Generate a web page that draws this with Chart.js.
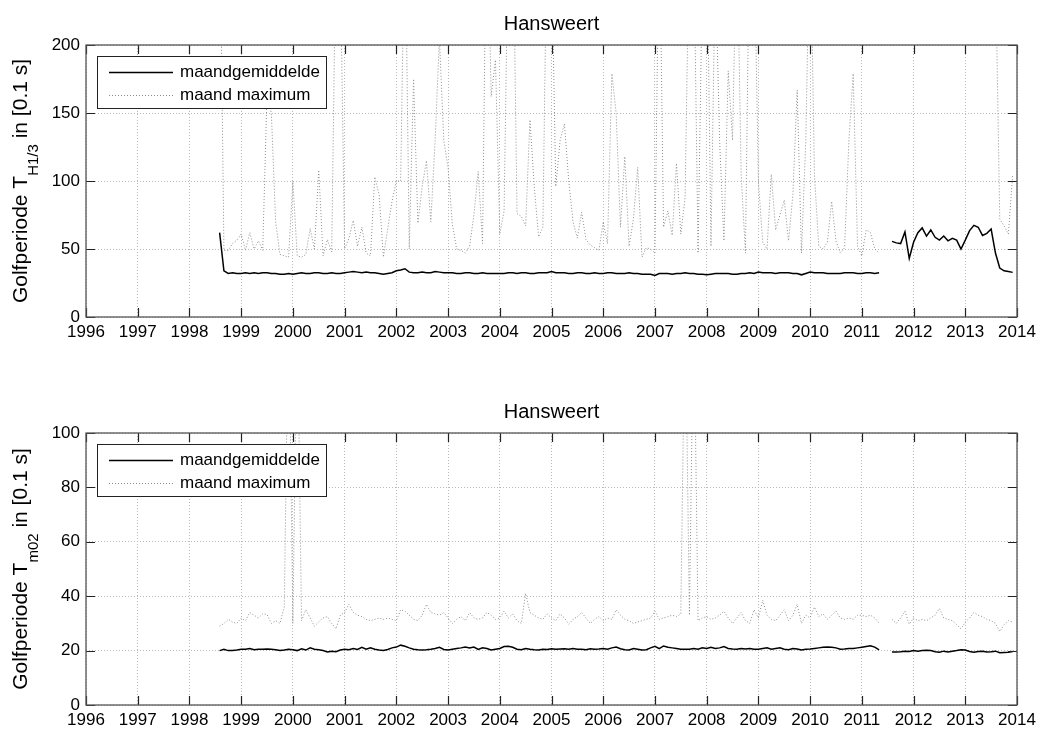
<!DOCTYPE html>
<html>
<head>
<meta charset="utf-8">
<title>Hansweert</title>
<script src="https://cdn.jsdelivr.net/npm/chart.js@4.4.1/dist/chart.umd.min.js"></script>
<style>
  html, body { margin: 0; padding: 0; background: #fff; }
  #wrap { position: relative; width: 1040px; height: 731px; }
  canvas { position: absolute; left: 0; }
</style>
</head>
<body>
<div id="wrap">
  <canvas id="hs" width="1040" height="343" style="top:0"></canvas>
  <canvas id="tm" width="1040" height="343" style="top:388px"></canvas>
</div>
<script>
// monthly series start in Aug 1998; gap Jun-Jul 2011; second block Aug 2011 - Dec 2013
const START_YEAR = 1998;
const START_MONTH = 8;
const GAP_MONTHS = 2;

const yearTicks = [1996, 1997, 1998, 1999, 2000, 2001, 2002, 2003, 2004, 2005,
                   2006, 2007, 2008, 2009, 2010, 2011, 2012, 2013, 2014];

// TH1/3, monthly mean, Aug 1998 - May 2011
const hsMean9811 = [
  62, 34, 32, 32.5, 32,
  32, 32.5, 32, 32.5, 32, 32.5, 32.5, 32, 32, 31.5, 31.5, 32,
  31.5, 32, 32.5, 32, 32, 32.5, 32.5, 32, 32, 32.5, 32, 32,
  32.5, 33, 33.5, 33, 32.5, 33, 32.5, 32.5, 32, 31.5, 32, 32.5,
  34, 34.5, 35.5, 33, 32.5, 32.5, 33, 32.5, 32.5, 33.5, 33, 32.5,
  32.5, 32.5, 32, 32, 32.5, 32.5, 32, 32, 32.5, 32, 32, 32,
  32, 32, 32.5, 32.5, 32, 32.5, 32.5, 32, 32, 32.5, 32.5, 32.5,
  33.5, 32.5, 32.5, 32.5, 32, 32, 32.5, 32.5, 32, 32, 32.5, 32,
  32, 32.5, 32.5, 32, 32, 32, 32.5, 32, 32, 31.5, 31.5, 31.5,
  30.5, 32, 32, 32, 31.5, 32, 32, 32.5, 32, 32, 31.5, 31.5,
  31, 31.5, 32, 32, 32, 32, 31.5, 31.5, 32, 32, 32.5, 32,
  33, 32.5, 32.5, 32.5, 32, 32.5, 32.5, 32.5, 32, 32, 31, 32,
  33, 32.5, 32.5, 32.5, 32, 32, 32, 32, 32.5, 32.5, 32.5, 32,
  32, 32.5, 32.5, 32, 32.5
];
// TH1/3, monthly mean, Aug 2011 - Dec 2013
const hsMean1113 = [
  55.6, 54.5, 54, 62.5, 43, 55, 62, 65.5, 59.5, 64, 58.6, 56.5,
  59.5, 56, 57.8, 56.5, 50, 56.5, 63.5, 67.4, 66, 60, 61.5, 64.7,
  47, 36, 34, 33.5, 32.8
];
// TH1/3, monthly maximum, Aug 1998 - May 2011
const hsMax9811 = [
  320, 49, 49, 54, 56.5,
  61, 49, 62, 50, 56, 49, 165, 150, 70, 46, 45, 44,
  100, 45, 44, 46, 65, 50, 108, 45, 57, 48, 280, 260,
  50, 58, 71, 52, 66, 47, 45, 103, 90, 44, 65, 85,
  100, 100, 300, 50, 175, 69, 96, 115, 70, 130, 205, 130,
  110, 68, 50, 49, 47, 52, 75, 107, 54, 330, 162, 189,
  61, 78, 290, 310, 76, 74, 67, 145, 96, 59, 66, 300,
  270, 96, 130, 142, 100, 70, 58, 77, 57, 53, 51, 49,
  70, 54, 179, 150, 66, 118, 52, 72, 110, 44, 51, 50,
  47, 300, 66, 78, 60, 113, 61, 88, 290, 280, 47, 250,
  300, 52, 260, 130, 56, 181, 130, 290, 105, 47, 300, 280,
  100, 55, 50, 105, 64, 75, 86, 56, 90, 167, 47, 130,
  300, 105, 52, 50, 55, 85, 56, 47, 51, 130, 179, 52,
  45, 64, 62, 50, 47
];
// TH1/3, monthly maximum, Aug 2011 - Dec 2013
const hsMax1113 = [
  null, null, null, null, null, null, null, null, null, null, null, null,
  null, null, null, null, null, null, null, null, null, null, null, null,
  260, 72, 67, 61, 105
];

// Tm02, monthly mean, Aug 1998 - May 2011
const tmMean9811 = [
  20, 20.5, 20, 20, 20.2,
  20.5, 20.5, 20.8, 20.3, 20.5, 20.5, 20.6, 20.5, 20.3, 20, 20.2, 20.5,
  20.3, 20, 20.7, 20.2, 21, 20.5, 20.3, 20, 19.5, 19.8, 19.6, 20.2,
  20.5, 20.3, 20.8, 20.4, 21.2, 20.5, 21, 20.5, 20.2, 20, 20.4, 21,
  21.3, 22, 21.6, 21, 20.5, 20.3, 20.2, 20.3, 20.5, 20.8, 21.2, 20.4,
  20.2, 20.5, 20.8, 21, 21.3, 21, 21.3, 20.4, 21, 20.8, 20.2, 20.5,
  20.8, 21.5, 21.6, 21.2, 20.5, 20.3, 20.8, 20.5, 20.3, 20.2, 20.5, 20.4,
  20.7, 20.5, 20.6, 20.7, 20.5, 20.8, 20.5, 20.5, 20.3, 20.7, 20.5, 20.6,
  20.8, 20.5, 21, 21.3, 20.7, 20.3, 20.2, 20.8, 20.5, 20.2, 20.3, 21,
  21.6, 20.7, 21.7, 21.2, 21, 20.8, 20.5, 20.5, 20.5, 20.8, 20.5, 21,
  20.8, 21.2, 20.8, 21, 21.5, 20.8, 20.6, 20.5, 20.8, 20.6, 20.8, 20.5,
  20.5, 20.8, 21, 20.5, 20.8, 21, 20.5, 20.3, 20.8, 20.6, 20.2, 20.5,
  20.6, 20.8, 21, 21.2, 21.3, 21.2, 21, 20.5, 20.6, 20.8, 20.8, 21,
  21.2, 21.5, 21.8, 21.3, 20.3
];
// Tm02, monthly mean, Aug 2011 - Dec 2013
const tmMean1113 = [
  19.5, 19.5, 19.6, 19.8, 19.7, 20, 19.8, 20, 20.1, 20, 19.6, 19.4,
  19.8, 19.5, 19.8, 20, 20.3, 20.2, 19.7, 19.4, 19.7, 19.8, 19.5, 19.6,
  19.8, 19.2, 19.3, 19.4, 19.7
];
// Tm02, monthly maximum, Aug 1998 - May 2011
const tmMax9811 = [
  29, 30, 31.5, 30.5, 30,
  32, 31, 34, 33, 32, 33.5, 33.3, 30, 31, 30, 36, 150,
  30, 150, 31, 35, 32, 29, 30.5, 32, 32.5, 30, 28, 33,
  34, 37, 34, 33, 32.5, 31.5, 31, 31.5, 32, 31.5, 32, 31.5,
  31, 35, 34.5, 33, 31.5, 31, 33, 37, 34, 33.5, 33, 34,
  32, 30, 31.5, 32.5, 31, 34, 32, 31.5, 32, 34, 33, 31.5,
  32, 34.5, 32, 33.5, 31, 30, 41, 34, 33, 32, 31.5, 33.5,
  32, 31, 33.5, 32, 29.7, 31.5, 32.5, 34, 32, 30, 31.5, 32.5,
  31, 32, 31.5, 35, 33, 31.5, 31, 30, 30.5, 31, 31.5, 32,
  34.5, 31.5, 32, 32.5, 33, 32.5, 33.5, 150, 33, 150, 31, 32,
  32.5, 31.5, 32, 33, 34.5, 32, 30, 32, 34, 31, 30, 35,
  32, 38.5, 33, 31.5, 31, 33, 35, 31, 33, 37, 30, 33,
  32, 36, 32.5, 33.5, 31.5, 33, 34.5, 32, 31.5, 32, 31.5, 33,
  33, 32.5, 33, 32, 30
];
// Tm02, monthly maximum, Aug 2011 - Dec 2013
const tmMax1113 = [
  31.5, 30, 32, 34.5, 29.7, 32, 31, 31.5, 31, 32, 33, 35.5,
  32, 31.5, 31, 29.5, 28, 30.5, 32, 34, 33, 32.5, 31.5, 31,
  30, 27, 29.5, 31, 30.5
];

const FONT = '"Liberation Sans", Arial, Helvetica, sans-serif';

// join the two blocks into one monthly {x, y} list, with nulls for the gap
function monthly(first, second) {
  const values = first.concat(new Array(GAP_MONTHS).fill(null), second);
  return values.map((v, i) => ({ x: START_YEAR + (START_MONTH - 1 + i) / 12, y: v }));
}

// box, inward ticks, boxed legend and the y label with subscript
const matlabFrame = {
  id: 'matlabFrame',
  afterDraw(chart, args, opts) {
    const ctx = chart.ctx;
    const a = chart.chartArea;
    const xs = chart.scales.x, ys = chart.scales.y;
    ctx.save();

    // inward tick marks on all four sides
    ctx.strokeStyle = '#222';
    ctx.lineWidth = 1.2;
    ctx.beginPath();
    xs.ticks.forEach(t => {
      const px = Math.round(xs.getPixelForValue(t.value)) + 0.5;
      ctx.moveTo(px, a.bottom); ctx.lineTo(px, a.bottom - 9);
      ctx.moveTo(px, a.top); ctx.lineTo(px, a.top + 9);
    });
    ys.ticks.forEach(t => {
      const py = Math.round(ys.getPixelForValue(t.value)) + 0.5;
      ctx.moveTo(a.left, py); ctx.lineTo(a.left + 9, py);
      ctx.moveTo(a.right, py); ctx.lineTo(a.right - 9, py);
    });
    ctx.stroke();

    // axes box
    ctx.strokeStyle = '#555';
    ctx.lineWidth = 1.3;
    ctx.strokeRect(a.left, a.top, a.right - a.left, a.bottom - a.top);

    // legend
    const lx = a.left + 11, ly = a.top + 11, lw = 229, lh = 52;
    ctx.fillStyle = '#fff';
    ctx.fillRect(lx, ly, lw, lh);
    ctx.strokeStyle = '#222';
    ctx.lineWidth = 1;
    ctx.strokeRect(lx + 0.5, ly + 0.5, lw, lh);
    ctx.font = '17px ' + FONT;
    ctx.textBaseline = 'middle';
    chart.data.datasets.forEach((ds, i) => {
      const ry = ly + 16 + i * 23;
      ctx.strokeStyle = ds.borderColor;
      ctx.lineWidth = ds.borderWidth;
      ctx.setLineDash(ds.borderDash || []);
      ctx.beginPath();
      ctx.moveTo(lx + 12, ry + 0.5);
      ctx.lineTo(lx + 76, ry + 0.5);
      ctx.stroke();
      ctx.setLineDash([]);
      ctx.fillStyle = '#000';
      ctx.fillText(ds.label, lx + 83, ry);
    });

    // y axis label, rotated, with TeX-like subscript
    const main = '21px ' + FONT, small = '15px ' + FONT;
    const p1 = 'Golfperiode T', p3 = ' in [0.1 s]';
    ctx.font = main;
    const w1 = ctx.measureText(p1).width, w3 = ctx.measureText(p3).width;
    ctx.font = small;
    const w2 = ctx.measureText(opts.sub).width;
    ctx.translate(27, (a.top + a.bottom) / 2);
    ctx.rotate(-Math.PI / 2);
    ctx.textBaseline = 'alphabetic';
    ctx.fillStyle = '#000';
    let x = -(w1 + w2 + w3) / 2;
    ctx.font = main; ctx.fillText(p1, x, 0); x += w1;
    ctx.font = small; ctx.fillText(opts.sub, x, 11); x += w2;
    ctx.font = main; ctx.fillText(p3, x, 0);
    ctx.restore();
  }
};

function gridFor() {
  return { color: '#b8b8b8', lineWidth: 1, drawTicks: false };
}

function makeChart(id, mean, max, yMax, yStep, sub) {
  return new Chart(document.getElementById(id), {
    type: 'line',
    data: {
      datasets: [
        { label: 'maandgemiddelde', data: mean, borderColor: '#000', borderWidth: 1.5,
          pointRadius: 0, tension: 0, spanGaps: false },
        { label: 'maand maximum', data: max, borderColor: '#8c8c8c', borderWidth: 1,
          borderDash: [1, 2], pointRadius: 0, tension: 0, spanGaps: false }
      ]
    },
    options: {
      responsive: false,
      animation: false,
      events: [],
      layout: { padding: { left: 0, right: 23, top: 0, bottom: 0 } },
      plugins: {
        legend: { display: false },
        tooltip: { enabled: false },
        title: {
          display: true, text: 'Hansweert', fullSize: false, color: '#000',
          font: { family: FONT, size: 20, weight: 'normal' },
          padding: { top: 12, bottom: 9 }
        },
        matlabFrame: { sub: sub }
      },
      scales: {
        x: {
          type: 'linear', min: yearTicks[0], max: yearTicks[yearTicks.length - 1],
          afterFit: s => { s.height = 26; s.paddingLeft = 0; s.paddingRight = 0; },
          afterBuildTicks: s => { s.ticks = yearTicks.map(v => ({ value: v })); },
          ticks: { autoSkip: false, maxRotation: 0, color: '#000', padding: 5,
                   font: { family: FONT, size: 17 }, callback: v => String(v) },
          grid: gridFor(),
          border: { display: false, dash: [1, 2] }
        },
        y: {
          min: 0, max: yMax,
          afterFit: s => { s.width = 86; s.paddingTop = 0; s.paddingBottom = 0; },
          ticks: { stepSize: yStep, color: '#000', padding: 6,
                   font: { family: FONT, size: 17 } },
          grid: gridFor(),
          border: { display: false, dash: [1, 2] }
        }
      }
    },
    plugins: [matlabFrame]
  });
}

makeChart('hs', monthly(hsMean9811, hsMean1113), monthly(hsMax9811, hsMax1113), 200, 50, 'H1/3');
makeChart('tm', monthly(tmMean9811, tmMean1113), monthly(tmMax9811, tmMax1113), 100, 20, 'm02');
</script>
</body>
</html>
